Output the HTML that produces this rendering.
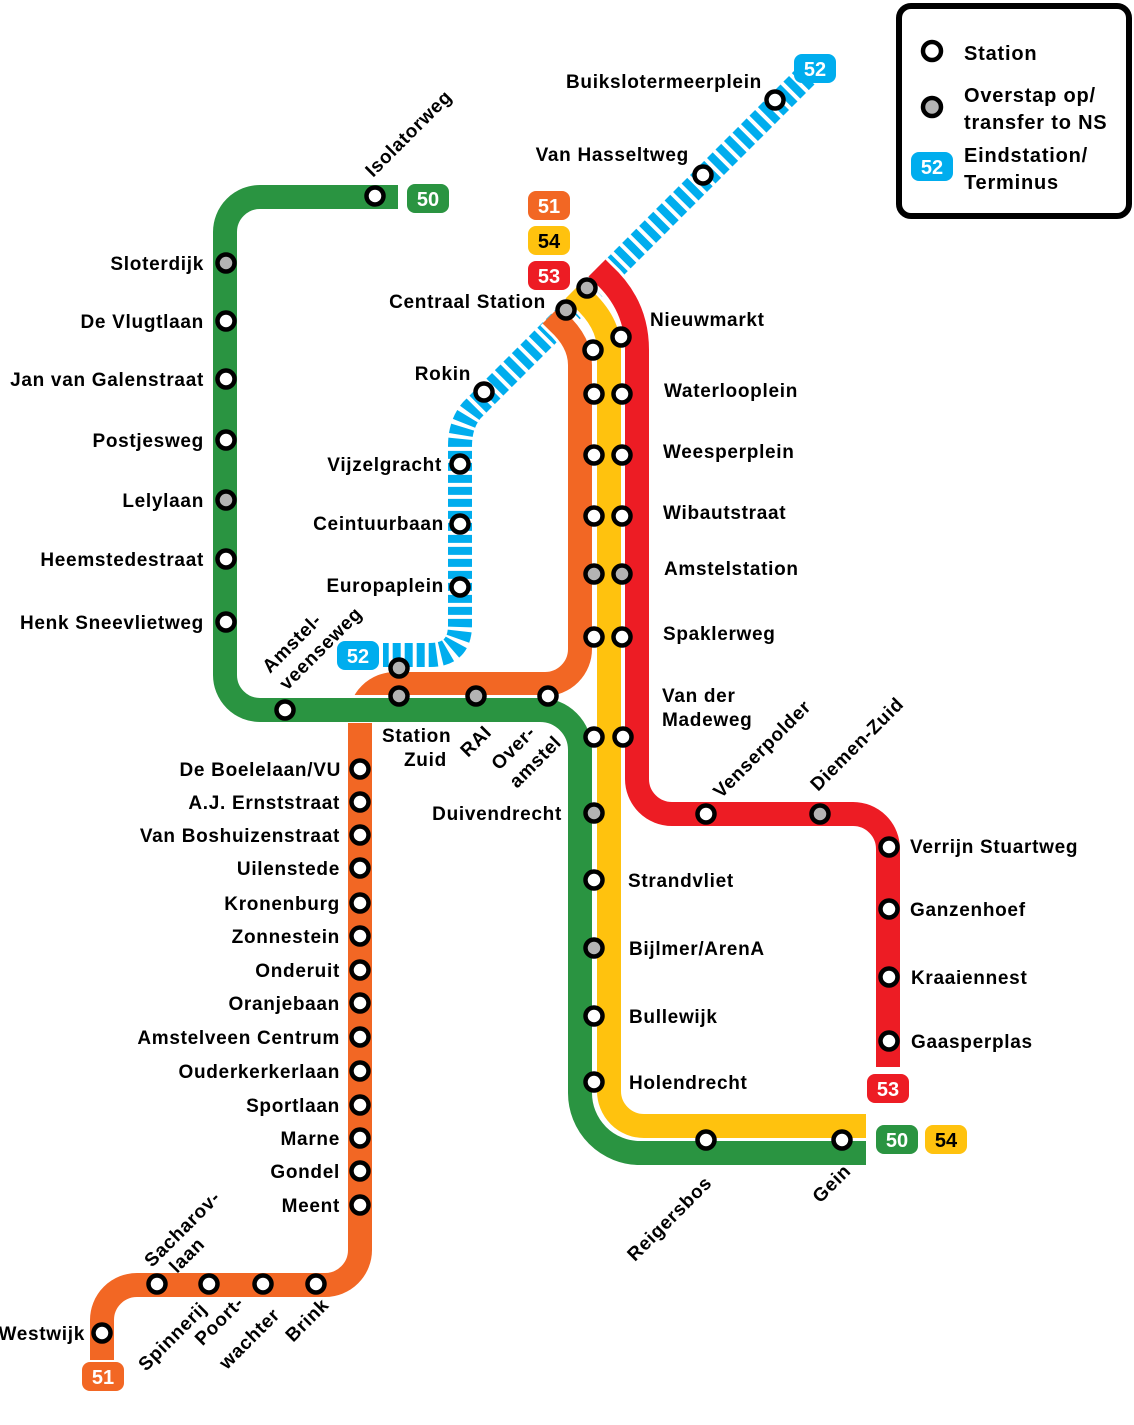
<!DOCTYPE html>
<html><head><meta charset="utf-8"><style>
html,body{margin:0;padding:0;background:#fff}
svg{display:block}
text{font-family:"Liberation Sans",sans-serif;font-weight:bold;font-size:19px;letter-spacing:0.7px;fill:#000}
.b{fill:#fff;font-size:20px;text-anchor:middle;letter-spacing:0}
</style></head><body>
<svg width="1134" height="1425" viewBox="0 0 1134 1425" xmlns="http://www.w3.org/2000/svg">
<rect width="1134" height="1425" fill="#fff"/>
<path d="M806,76 L472,410 Q460,424 460,446 L460,625 Q460,655 430,655 L383,655" fill="none" stroke="#00adee" stroke-width="24" stroke-dasharray="8 4"/>
<path d="M597,268 L603,274 Q637,305 637,350 L637,779 A35,35 0 0 0 672,814 L853,814 A35,35 0 0 1 888,849 L888,1067" fill="none" stroke="#fff" stroke-width="30"/>
<path d="M597,268 L603,274 Q637,305 637,350 L637,779 A35,35 0 0 0 672,814 L853,814 A35,35 0 0 1 888,849 L888,1067" fill="none" stroke="#ed1c24" stroke-width="24"/>
<path d="M574,290 L582,298 Q609,322 609,350 L609,1091 A35,35 0 0 0 644,1126 L866,1126" fill="none" stroke="#fff" stroke-width="30"/>
<path d="M574,290 L582,298 Q609,322 609,350 L609,1091 A35,35 0 0 0 644,1126 L866,1126" fill="none" stroke="#ffc20e" stroke-width="24"/>
<path d="M551,315 L558,322 Q580,342 580,365 L580,649 A35,35 0 0 1 545,684 L395,684 A35,35 0 0 0 360,719 L360,1250 A35,35 0 0 1 325,1285 L137,1285 A35,35 0 0 0 102,1320 L102,1360" fill="none" stroke="#fff" stroke-width="30"/>
<path d="M551,315 L558,322 Q580,342 580,365 L580,649 A35,35 0 0 1 545,684 L395,684 A35,35 0 0 0 360,719 L360,1250 A35,35 0 0 1 325,1285 L137,1285 A35,35 0 0 0 102,1320 L102,1360" fill="none" stroke="#f26724" stroke-width="24"/>
<path d="M398,197 L260,197 A35,35 0 0 0 225,232 L225,675 A35,35 0 0 0 260,710 L540,710 A40,40 0 0 1 580,750 L580,1093 A60,60 0 0 0 640,1153 L866,1153" fill="none" stroke="#fff" stroke-width="30"/>
<path d="M398,197 L260,197 A35,35 0 0 0 225,232 L225,675 A35,35 0 0 0 260,710 L540,710 A40,40 0 0 1 580,750 L580,1093 A60,60 0 0 0 640,1153 L866,1153" fill="none" stroke="#2a9441" stroke-width="24"/>
<rect x="348" y="723" width="24" height="10" fill="#f26724"/>
<g stroke="#000" stroke-width="4.5" fill="#fff">
<circle cx="375" cy="196" r="8.5"/>
<circle cx="226" cy="263" r="8.5" fill="#b3b3b3"/><circle cx="226" cy="321" r="8.5"/><circle cx="226" cy="379" r="8.5"/><circle cx="226" cy="440" r="8.5"/><circle cx="226" cy="500" r="8.5" fill="#b3b3b3"/><circle cx="226" cy="559" r="8.5"/><circle cx="226" cy="622" r="8.5"/>
<circle cx="285" cy="710" r="8.5"/>
<circle cx="399" cy="668" r="8.5" fill="#b3b3b3"/><circle cx="399" cy="696" r="8.5" fill="#b3b3b3"/><circle cx="476" cy="696" r="8.5" fill="#b3b3b3"/><circle cx="548" cy="696" r="8.5"/>
<circle cx="360" cy="769" r="8.5"/><circle cx="360" cy="802" r="8.5"/><circle cx="360" cy="835" r="8.5"/><circle cx="360" cy="868" r="8.5"/><circle cx="360" cy="903" r="8.5"/><circle cx="360" cy="936" r="8.5"/><circle cx="360" cy="970" r="8.5"/><circle cx="360" cy="1003" r="8.5"/><circle cx="360" cy="1037" r="8.5"/><circle cx="360" cy="1071" r="8.5"/><circle cx="360" cy="1105" r="8.5"/><circle cx="360" cy="1138" r="8.5"/><circle cx="360" cy="1171" r="8.5"/><circle cx="360" cy="1205" r="8.5"/>
<circle cx="157" cy="1284" r="8.5"/><circle cx="209" cy="1284" r="8.5"/><circle cx="263" cy="1284" r="8.5"/><circle cx="316" cy="1284" r="8.5"/><circle cx="102" cy="1333" r="8.5"/>
<circle cx="775" cy="100" r="8.5"/><circle cx="703" cy="175" r="8.5"/><circle cx="587" cy="288" r="8.5" fill="#b3b3b3"/><circle cx="566" cy="310" r="8.5" fill="#b3b3b3"/><circle cx="484" cy="392" r="8.5"/><circle cx="460" cy="464" r="8.5"/><circle cx="460" cy="524" r="8.5"/><circle cx="460" cy="587" r="8.5"/>
<circle cx="593" cy="350" r="8.5"/><circle cx="621" cy="337" r="8.5"/>
<circle cx="594" cy="394" r="8.5"/><circle cx="622" cy="394" r="8.5"/>
<circle cx="594" cy="455" r="8.5"/><circle cx="622" cy="455" r="8.5"/>
<circle cx="594" cy="516" r="8.5"/><circle cx="622" cy="516" r="8.5"/>
<circle cx="594" cy="574" r="8.5" fill="#b3b3b3"/><circle cx="622" cy="574" r="8.5" fill="#b3b3b3"/>
<circle cx="594" cy="637" r="8.5"/><circle cx="622" cy="637" r="8.5"/>
<circle cx="594" cy="737" r="8.5"/><circle cx="623" cy="737" r="8.5"/>
<circle cx="594" cy="813" r="8.5" fill="#b3b3b3"/><circle cx="594" cy="880" r="8.5"/><circle cx="594" cy="948" r="8.5" fill="#b3b3b3"/><circle cx="594" cy="1016" r="8.5"/><circle cx="594" cy="1082" r="8.5"/>
<circle cx="706" cy="1140" r="8.5"/><circle cx="842" cy="1140" r="8.5"/>
<circle cx="706" cy="814" r="8.5"/><circle cx="820" cy="814" r="8.5" fill="#b3b3b3"/>
<circle cx="889" cy="847" r="8.5"/><circle cx="889" cy="909" r="8.5"/><circle cx="889" cy="977" r="8.5"/><circle cx="889" cy="1041" r="8.5"/>
</g>
<g>
<rect x="794" y="54" width="42" height="29" rx="8" fill="#00adee"/><text class="b" x="815" y="76">52</text>
<rect x="407" y="184" width="42" height="29" rx="8" fill="#2a9441"/><text class="b" x="428" y="206">50</text>
<rect x="528" y="191" width="42" height="29" rx="8" fill="#f26724"/><text class="b" x="549" y="213">51</text>
<rect x="528" y="226" width="42" height="29" rx="8" fill="#ffc20e"/><text class="b" x="549" y="248" style="fill:#000">54</text>
<rect x="528" y="261" width="42" height="29" rx="8" fill="#ed1c24"/><text class="b" x="549" y="283">53</text>
<rect x="337" y="641" width="42" height="29" rx="8" fill="#00adee"/><text class="b" x="358" y="663">52</text>
<rect x="867" y="1074" width="42" height="29" rx="8" fill="#ed1c24"/><text class="b" x="888" y="1096">53</text>
<rect x="876" y="1125" width="42" height="29" rx="8" fill="#2a9441"/><text class="b" x="897" y="1147">50</text>
<rect x="925" y="1125" width="42" height="29" rx="8" fill="#ffc20e"/><text class="b" x="946" y="1147" style="fill:#000">54</text>
<rect x="82" y="1362" width="42" height="29" rx="8" fill="#f26724"/><text class="b" x="103" y="1384">51</text>
</g>
<g text-anchor="end">
<text x="204" y="270">Sloterdijk</text>
<text x="204" y="328">De Vlugtlaan</text>
<text x="204" y="386">Jan van Galenstraat</text>
<text x="204" y="447">Postjesweg</text>
<text x="204" y="507">Lelylaan</text>
<text x="204" y="566">Heemstedestraat</text>
<text x="204" y="629">Henk Sneevlietweg</text>
<text x="762" y="88">Buikslotermeerplein</text>
<text x="689" y="161">Van Hasseltweg</text>
<text x="546" y="308">Centraal Station</text>
<text x="471" y="380">Rokin</text>
<text x="442" y="471">Vijzelgracht</text>
<text x="444" y="530">Ceintuurbaan</text>
<text x="444" y="592">Europaplein</text>
<text x="341" y="776">De Boelelaan/VU</text>
<text x="340" y="809">A.J. Ernststraat</text>
<text x="340" y="842">Van Boshuizenstraat</text>
<text x="340" y="875">Uilenstede</text>
<text x="340" y="910">Kronenburg</text>
<text x="340" y="943">Zonnestein</text>
<text x="340" y="977">Onderuit</text>
<text x="340" y="1010">Oranjebaan</text>
<text x="340" y="1044">Amstelveen Centrum</text>
<text x="340" y="1078">Ouderkerkerlaan</text>
<text x="340" y="1112">Sportlaan</text>
<text x="340" y="1145">Marne</text>
<text x="340" y="1178">Gondel</text>
<text x="340" y="1212">Meent</text>
<text x="85" y="1340">Westwijk</text>
<text x="562" y="820">Duivendrecht</text>
</g>
<g>
<text x="650" y="326">Nieuwmarkt</text>
<text x="664" y="397">Waterlooplein</text>
<text x="663" y="458">Weesperplein</text>
<text x="663" y="519">Wibautstraat</text>
<text x="664" y="575">Amstelstation</text>
<text x="663" y="640">Spaklerweg</text>
<text x="662" y="702">Van der</text>
<text x="662" y="726">Madeweg</text>
<text x="628" y="887">Strandvliet</text>
<text x="629" y="955">Bijlmer/ArenA</text>
<text x="629" y="1023">Bullewijk</text>
<text x="629" y="1089">Holendrecht</text>
<text x="910" y="853">Verrijn Stuartweg</text>
<text x="910" y="916">Ganzenhoef</text>
<text x="911" y="984">Kraaiennest</text>
<text x="911" y="1048">Gaasperplas</text>
<text x="382" y="742">Station</text>
<text x="404" y="766">Zuid</text>
</g>
<text transform="translate(373,178) rotate(-45)">Isolatorweg</text>
<text transform="translate(270,674) rotate(-45)">Amstel-</text>
<text transform="translate(287,691) rotate(-45)">veenseweg</text>
<text transform="translate(468,758) rotate(-45)">RAI</text>
<text transform="translate(499,771) rotate(-45)">Over-</text>
<text transform="translate(517,789) rotate(-45)">amstel</text>
<text transform="translate(721,799) rotate(-45)">Venserpolder</text>
<text transform="translate(818,792) rotate(-45)">Diemen-Zuid</text>
<text transform="translate(713,1184) rotate(-45)" text-anchor="end">Reigersbos</text>
<text transform="translate(852,1172) rotate(-45)" text-anchor="end">Gein</text>
<text transform="translate(152,1268) rotate(-45)">Sacharov-</text>
<text transform="translate(177,1274) rotate(-45)">laan</text>
<text transform="translate(208,1310) rotate(-45)" text-anchor="end">Spinnerij</text>
<text transform="translate(245,1304) rotate(-45)" text-anchor="end">Poort-</text>
<text transform="translate(281,1316) rotate(-45)" text-anchor="end">wachter</text>
<text transform="translate(330,1306) rotate(-45)" text-anchor="end">Brink</text>
<rect x="899" y="6" width="230" height="210" rx="12" fill="#fff" stroke="#000" stroke-width="6"/>
<circle cx="932" cy="51" r="9" fill="#fff" stroke="#000" stroke-width="4.5"/>
<circle cx="932" cy="107" r="9" fill="#b3b3b3" stroke="#000" stroke-width="4.5"/>
<rect x="911" y="152" width="42" height="29" rx="8" fill="#00adee"/><text class="b" x="932" y="174">52</text>
<text x="964" y="60" style="font-size:20px;letter-spacing:0.8px">Station</text>
<text x="964" y="102" style="font-size:20px;letter-spacing:0.8px">Overstap op/</text>
<text x="964" y="129" style="font-size:20px;letter-spacing:0.8px">transfer to NS</text>
<text x="964" y="162" style="font-size:20px;letter-spacing:0.8px">Eindstation/</text>
<text x="964" y="189" style="font-size:20px;letter-spacing:0.8px">Terminus</text>
</svg>
</body></html>
